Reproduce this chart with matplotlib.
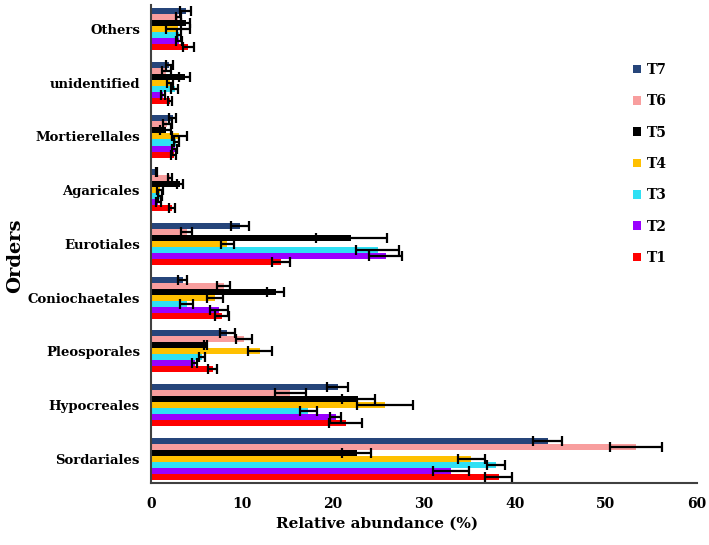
import matplotlib
matplotlib.use("Agg")
import matplotlib.pyplot as plt
import numpy as np

# orders from bottom to top
orders = ["Sordariales", "Hypocreales", "Pleosporales", "Coniochaetales",
          "Eurotiales", "Agaricales", "Mortierellales", "unidentified", "Others"]
treatments = ["T1", "T2", "T3", "T4", "T5", "T6", "T7"]
colors = ["#FF0000", "#9900FF", "#2FE0F4", "#FFC000", "#000000", "#F89E9E", "#26457A"]

# mean relative abundance (%) per treatment, same order as `orders`
T1 = [38.2, 21.4, 6.8, 7.8, 14.3, 2.3, 2.5, 2.1, 4.1]
T2 = [33.0, 20.3, 4.8, 7.5, 25.8, 0.8, 2.6, 1.3, 3.1]
T3 = [37.9, 17.3, 5.6, 3.9, 24.9, 1.0, 2.8, 2.6, 3.1]
T4 = [35.2, 25.7, 12.0, 7.0, 8.4, 1.0, 3.1, 2.1, 3.0]
T5 = [22.6, 22.8, 6.0, 13.7, 22.0, 3.2, 1.6, 3.7, 3.8]
T6 = [53.3, 15.3, 10.2, 8.0, 3.9, 2.1, 1.8, 1.7, 3.0]
T7 = [43.6, 20.5, 8.4, 3.5, 9.8, 0.6, 2.4, 2.0, 3.8]

# standard errors
E1 = [1.5, 1.8, 0.5, 0.8, 1.0, 0.3, 0.3, 0.2, 0.6]
E2 = [2.0, 0.6, 0.3, 1.0, 1.8, 0.3, 0.3, 0.2, 0.3]
E3 = [1.0, 0.9, 0.3, 0.7, 2.4, 0.2, 0.3, 0.4, 0.2]
E4 = [1.5, 3.1, 1.3, 0.9, 0.75, 0.3, 0.8, 0.3, 1.3]
E5 = [1.6, 1.8, 0.2, 0.9, 3.9, 0.3, 0.6, 0.6, 0.5]
E6 = [2.9, 1.7, 0.9, 0.7, 0.6, 0.2, 0.5, 0.5, 0.3]
E7 = [1.6, 1.2, 0.8, 0.5, 1.0, 0.1, 0.4, 0.4, 0.6]

means = [T1, T2, T3, T4, T5, T6, T7]
errs = [E1, E2, E3, E4, E5, E6, E7]

plt.rcParams['font.family'] = 'DejaVu Serif'
plt.rcParams['font.weight'] = 'bold'

fig = plt.figure(figsize=(7.09, 5.45), dpi=100)
ax = fig.add_axes([0.213, 0.114, 0.77, 0.877])

y = np.arange(len(orders))
h = 0.112
handles = []
for i, (m, e, c, lab) in enumerate(zip(means, errs, colors, treatments)):
    b = ax.barh(y + (i - 3) * h, m, height=h, color=c, label=lab,
                xerr=e, error_kw=dict(ecolor="black", elinewidth=1.6,
                                      capsize=3.5, capthick=1.6))
    handles.append(b)

ax.set_xlim(0, 60)
ax.set_ylim(-0.45, 8.45)
ax.set_yticks(y)
ax.set_yticklabels(orders, fontsize=9.5, fontweight='bold')
ax.set_xticks(range(0, 61, 10))
ax.tick_params(axis='x', labelsize=10, length=0, pad=10)
ax.tick_params(axis='y', length=0, pad=8)
for s in ["top", "right"]:
    ax.spines[s].set_visible(False)
for s in ["left", "bottom"]:
    ax.spines[s].set_color("#404040")
    ax.spines[s].set_linewidth(1.5)

ax.set_xlabel("Relative abundance (%)", fontsize=11, fontweight='bold')
ax.xaxis.set_label_coords(0.414, -0.07)
fig.text(0.022, 0.53, "Orders", rotation=90, fontsize=14, fontweight='bold',
         ha='center', va='center')

ax.legend(handles[::-1], treatments[::-1], loc="upper left",
          bbox_to_anchor=(0.86, 0.905), frameon=False, fontsize=10,
          handlelength=0.6, handleheight=0.6, labelspacing=1.25,
          handletextpad=0.4)

fig.savefig("out.png", dpi=100)
